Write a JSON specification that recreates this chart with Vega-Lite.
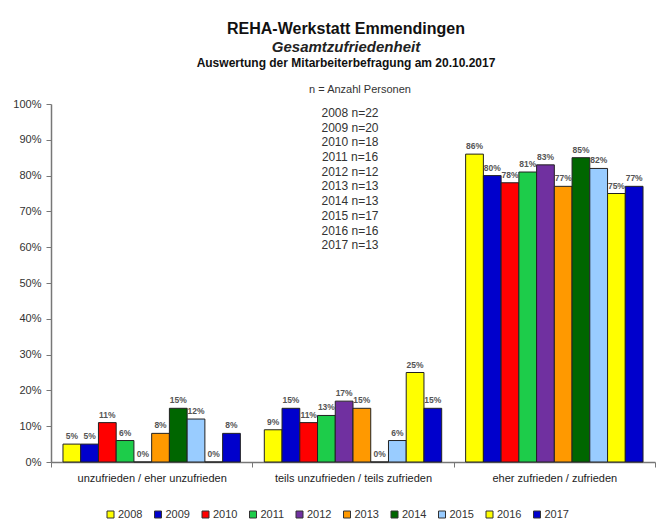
{
  "$schema": "https://vega.github.io/schema/vega-lite/v6.json",
  "width": 604,
  "height": 358,
  "autosize": {"type": "none"},
  "padding": {"left": 51, "top": 104, "right": 3, "bottom": 67},
  "background": "white",
  "config": {
    "font": "Liberation Sans",
    "view": {"stroke": null},
    "axisX": {
      "title": null,
      "labelAngle": 0,
      "labelFontSize": 11,
      "labelColor": "#222",
      "labelPadding": 5,
      "tickBand": "extent",
      "tickSize": 5,
      "tickColor": "#777",
      "domainColor": "#777",
      "domainWidth": 1.5
    },
    "axisY": {
      "title": null,
      "format": ".0%",
      "grid": false,
      "labelFontSize": 11,
      "labelColor": "#333",
      "labelPadding": 5,
      "tickSize": 5,
      "tickColor": "#777",
      "domainColor": "#777",
      "domainWidth": 1.5
    }
  },
  "title": {
    "text": "REHA-Werkstatt Emmendingen",
    "subtitle": "Gesamtzufriedenheit",
    "anchor": "middle",
    "frame": "group",
    "dx": -7,
    "offset": 2,
    "fontSize": 16,
    "fontWeight": "bold",
    "color": "#111",
    "subtitleFontSize": 15,
    "subtitleFontStyle": "italic",
    "subtitleFontWeight": "bold",
    "subtitleColor": "#222",
    "subtitlePadding": 3
  },
  "datasets": {
    "bars": [
      {"cat": "unzufrieden / eher unzufrieden", "year": "2008", "value": 0.05},
      {"cat": "unzufrieden / eher unzufrieden", "year": "2009", "value": 0.05},
      {"cat": "unzufrieden / eher unzufrieden", "year": "2010", "value": 0.11},
      {"cat": "unzufrieden / eher unzufrieden", "year": "2011", "value": 0.06},
      {"cat": "unzufrieden / eher unzufrieden", "year": "2012", "value": 0.0},
      {"cat": "unzufrieden / eher unzufrieden", "year": "2013", "value": 0.08},
      {"cat": "unzufrieden / eher unzufrieden", "year": "2014", "value": 0.15},
      {"cat": "unzufrieden / eher unzufrieden", "year": "2015", "value": 0.12},
      {"cat": "unzufrieden / eher unzufrieden", "year": "2016", "value": 0.0},
      {"cat": "unzufrieden / eher unzufrieden", "year": "2017", "value": 0.08},
      {"cat": "teils unzufrieden / teils zufrieden", "year": "2008", "value": 0.09},
      {"cat": "teils unzufrieden / teils zufrieden", "year": "2009", "value": 0.15},
      {"cat": "teils unzufrieden / teils zufrieden", "year": "2010", "value": 0.11},
      {"cat": "teils unzufrieden / teils zufrieden", "year": "2011", "value": 0.13},
      {"cat": "teils unzufrieden / teils zufrieden", "year": "2012", "value": 0.17},
      {"cat": "teils unzufrieden / teils zufrieden", "year": "2013", "value": 0.15},
      {"cat": "teils unzufrieden / teils zufrieden", "year": "2014", "value": 0.0},
      {"cat": "teils unzufrieden / teils zufrieden", "year": "2015", "value": 0.06},
      {"cat": "teils unzufrieden / teils zufrieden", "year": "2016", "value": 0.25},
      {"cat": "teils unzufrieden / teils zufrieden", "year": "2017", "value": 0.15},
      {"cat": "eher zufrieden / zufrieden", "year": "2008", "value": 0.86},
      {"cat": "eher zufrieden / zufrieden", "year": "2009", "value": 0.80},
      {"cat": "eher zufrieden / zufrieden", "year": "2010", "value": 0.78},
      {"cat": "eher zufrieden / zufrieden", "year": "2011", "value": 0.81},
      {"cat": "eher zufrieden / zufrieden", "year": "2012", "value": 0.83},
      {"cat": "eher zufrieden / zufrieden", "year": "2013", "value": 0.77},
      {"cat": "eher zufrieden / zufrieden", "year": "2014", "value": 0.85},
      {"cat": "eher zufrieden / zufrieden", "year": "2015", "value": 0.82},
      {"cat": "eher zufrieden / zufrieden", "year": "2016", "value": 0.75},
      {"cat": "eher zufrieden / zufrieden", "year": "2017", "value": 0.77}
    ],
    "notes": [
      {"label": "Auswertung der Mitarbeiterbefragung am 20.10.2017"}
    ],
    "nnote": [
      {"label": "n = Anzahl Personen"}
    ],
    "counts": [
      {"label": ["2008 n=22", "2009 n=20", "2010 n=18", "2011 n=16", "2012 n=12", "2013 n=13", "2014 n=13", "2015 n=17", "2016 n=16", "2017 n=13"]}
    ]
  },
  "layer": [
    {
      "data": {"name": "bars"},
      "mark": {"type": "bar", "stroke": "#222", "strokeWidth": 1},
      "encoding": {
        "x": {
          "field": "cat",
          "type": "nominal",
          "sort": null,
          "scale": {"paddingInner": 0, "paddingOuter": 0}
        },
        "xOffset": {
          "field": "year",
          "type": "nominal",
          "scale": {"paddingInner": 0, "paddingOuter": 0.675}
        },
        "y": {
          "field": "value",
          "type": "quantitative",
          "scale": {"domain": [0, 1]},
          "axis": {"values": [0, 0.1, 0.2, 0.3, 0.4, 0.5, 0.6, 0.7, 0.8, 0.9, 1]}
        },
        "color": {
          "field": "year",
          "type": "nominal",
          "scale": {
            "domain": ["2008", "2009", "2010", "2011", "2012", "2013", "2014", "2015", "2016", "2017"],
            "range": ["#FFFF00", "#0000CC", "#FF0000", "#1DCC4A", "#7030A0", "#FF9900", "#006600", "#99CCFF", "#FFFF00", "#0000CC"]
          },
          "legend": {
            "orient": "none",
            "direction": "horizontal",
            "legendX": 54,
            "legendY": 405,
            "title": null,
            "symbolType": "square",
            "symbolSize": 49,
            "symbolStrokeColor": "#333",
            "symbolStrokeWidth": 1,
            "labelFontSize": 11,
            "labelColor": "#333",
            "labelOffset": 2,
            "columnPadding": 9.5
          }
        }
      }
    },
    {
      "data": {"name": "bars"},
      "mark": {"type": "text", "baseline": "bottom", "dy": -3, "fontSize": 8.5, "fontWeight": "bold", "color": "#555"},
      "encoding": {
        "x": {"field": "cat", "type": "nominal", "sort": null},
        "xOffset": {"field": "year", "type": "nominal"},
        "y": {"field": "value", "type": "quantitative", "axis": {"values": [0, 0.1, 0.2, 0.3, 0.4, 0.5, 0.6, 0.7, 0.8, 0.9, 1]}},
        "text": {"field": "value", "type": "quantitative", "format": ".0%"}
      }
    },
    {
      "data": {"name": "notes"},
      "mark": {"type": "text", "fontSize": 12, "fontWeight": "bold", "color": "#111", "baseline": "middle", "align": "center", "dx": -7},
      "encoding": {
        "x": {"datum": "teils unzufrieden / teils zufrieden"},
        "y": {"datum": 1.115, "axis": {"values": [0, 0.1, 0.2, 0.3, 0.4, 0.5, 0.6, 0.7, 0.8, 0.9, 1]}},
        "text": {"field": "label", "type": "nominal"}
      }
    },
    {
      "data": {"name": "nnote"},
      "mark": {"type": "text", "fontSize": 11, "color": "#333", "baseline": "middle", "align": "center", "dx": 7},
      "encoding": {
        "x": {"datum": "teils unzufrieden / teils zufrieden"},
        "y": {"datum": 1.039, "axis": {"values": [0, 0.1, 0.2, 0.3, 0.4, 0.5, 0.6, 0.7, 0.8, 0.9, 1]}},
        "text": {"field": "label", "type": "nominal"}
      }
    },
    {
      "data": {"name": "counts"},
      "mark": {"type": "text", "fontSize": 12, "color": "#333", "baseline": "top", "align": "center", "lineHeight": 14.7, "dx": -3},
      "encoding": {
        "x": {"datum": "teils unzufrieden / teils zufrieden"},
        "y": {"datum": 0.989, "axis": {"values": [0, 0.1, 0.2, 0.3, 0.4, 0.5, 0.6, 0.7, 0.8, 0.9, 1]}},
        "text": {"field": "label"}
      }
    }
  ]
}
